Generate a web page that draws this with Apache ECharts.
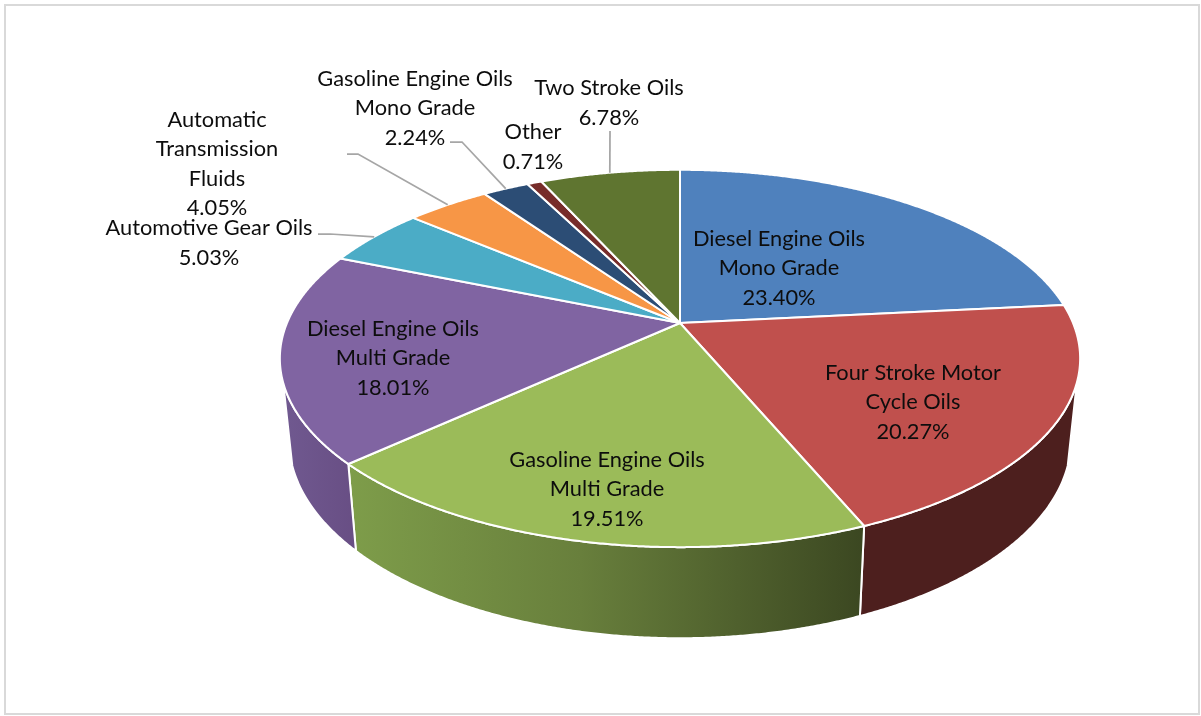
<!DOCTYPE html>
<html>
<head>
<meta charset="utf-8">
<style>
    html, body { margin: 0; padding: 0; background: #fff; }
    #chart { width: 1201px; height: 716px; }
</style>
<script src="https://cdn.jsdelivr.net/npm/echarts@6/dist/echarts.min.js"></script>
</head>
<body>
<div id="chart"></div>
<script>
// chart data, clockwise from twelve o'clock
const categories = [
    "Diesel Engine Oils\nMono Grade",
    "Four Stroke Motor\nCycle Oils",
    "Gasoline Engine Oils\nMulti Grade",
    "Diesel Engine Oils\nMulti Grade",
    "Automotive Gear Oils",
    "Automatic\nTransmission\nFluids",
    "Gasoline Engine Oils\nMono Grade",
    "Other",
    "Two Stroke Oils"
];
const shares = [23.40, 20.27, 19.51, 18.01, 5.03, 4.05, 2.24, 0.71, 6.78];

const topColors = ["#4f81bd", "#c0504d", "#9bbb59", "#8064a2", "#4bacc6", "#f79646", "#2c4d75", "#772c2a", "#5f7530"];

// label centres and leader elbows, in page pixels
const labelCenters = [[779, 268], [913, 402], [607, 489], [393, 358], [209, 243], [217, 164], [415, 108], [533, 147], [609, 103]];
const leaderStarts = [null, null, null, null, [318, 234], [347, 154], [450, 142], null, [610, 131]];
const leaderElbows = [null, null, null, null, [330, 234], [358, 154], [462, 142], null, null];

// perspective disc: the pie's centre does not sit in the middle of its ellipse
const apex = { x: 680, y: 323 };
const persp = 0.188;
const topFace = { a: 393, b: 182, y: apex.y };
const bottomFace = { a: 384, b: 191, y: 403 };

// only this part of the wall faces the camera, the rest is behind the top face
const wallFrom = 108 / 180 * Math.PI;
const wallTo = 252 / 180 * Math.PI;

const total = shares.reduce((s, v) => s + v, 0);
const cumulative = [];
shares.reduce((s, v, i) => {
    cumulative[i] = s;
    return s + v;
}, 0);

function toAngle(share) {
    return share / total * Math.PI * 2;
}

function project(face, angle) {
    const d = 1 + persp * Math.cos(angle);
    return [
        apex.x + face.a * Math.sin(angle) / d,
        face.y - face.b * Math.cos(angle) / d
    ];
}

function rim(face, from, to) {
    const steps = Math.max(2, Math.ceil((to - from) / 0.005));
    const pts = [];
    for (let i = 0; i <= steps; i++) {
        pts.push(project(face, from + (to - from) * i / steps));
    }
    return pts;
}

function sideFill(i) {
    if (i === 2) {
        return new echarts.graphic.LinearGradient(0, 0, 1, 0, [
            { offset: 0, color: "#7e9d4a" },
            { offset: 0.45, color: "#687f3c" },
            { offset: 1, color: "#3b4721" }
        ]);
    }
    if (i === 3) {
        return new echarts.graphic.LinearGradient(0, 0, 1, 0, [
            { offset: 0, color: "#705990" },
            { offset: 1, color: "#684e84" }
        ]);
    }
    return i === 1 ? "#4d1f1e" : topColors[i];
}

function renderSide(params, api) {
    const i = params.dataIndex;
    const start = toAngle(cumulative[i]);
    const from = Math.max(start, wallFrom);
    const to = Math.min(start + toAngle(api.value(0)), wallTo);
    if (to <= from) {
        return null;
    }
    const pts = rim(topFace, from, to).concat(rim(bottomFace, from, to).reverse());
    return {
        type: "polygon",
        shape: { points: pts },
        style: { fill: sideFill(i), stroke: "#fff", lineWidth: 2, lineJoin: "round" }
    };
}

function renderTop(params, api) {
    const i = params.dataIndex;
    const from = toAngle(cumulative[i]);
    const to = from + toAngle(api.value(0));
    const pts = [[apex.x, apex.y]].concat(rim(topFace, from, to));
    return {
        type: "polygon",
        shape: { points: pts },
        style: { fill: topColors[i], stroke: "#fff", lineWidth: 2, lineJoin: "round" }
    };
}

function renderLabel(params, api) {
    const i = params.dataIndex;
    const children = [];
    if (leaderStarts[i]) {
        const mid = toAngle(cumulative[i] + api.value(0) / 2);
        const pts = [leaderStarts[i]];
        if (leaderElbows[i]) {
            pts.push(leaderElbows[i]);
        }
        pts.push(project(topFace, mid));
        children.push({
            type: "polyline",
            shape: { points: pts },
            style: { fill: null, stroke: "#a6a6a6", lineWidth: 1.75 }
        });
    }
    children.push({
        type: "text",
        style: {
            text: categories[i] + "\n" + api.value(0).toFixed(2) + "%",
            x: labelCenters[i][0],
            y: labelCenters[i][1],
            align: "center",
            verticalAlign: "middle",
            fontFamily: "Lato",
            fontSize: 21.8,
            lineHeight: 29.5,
            fill: "#0d0d0d"
        }
    });
    return { type: "group", children: children };
}

const chart = echarts.init(document.getElementById("chart"));
const seriesData = shares.map(v => [v]);

chart.setOption({
    backgroundColor: "#fff",
    animation: false,
    graphic: [{
        type: "rect",
        shape: { x: 5, y: 5, width: 1194, height: 709 },
        style: { fill: null, stroke: "#d9d9d9", lineWidth: 2 },
        silent: true
    }],
    series: [
        { type: "custom", coordinateSystem: "none", z: 1, data: seriesData, renderItem: renderSide, silent: true },
        { type: "custom", coordinateSystem: "none", z: 2, data: seriesData, renderItem: renderTop, silent: true },
        { type: "custom", coordinateSystem: "none", z: 3, data: seriesData, renderItem: renderLabel, silent: true }
    ]
});
</script>
</body>
</html>
